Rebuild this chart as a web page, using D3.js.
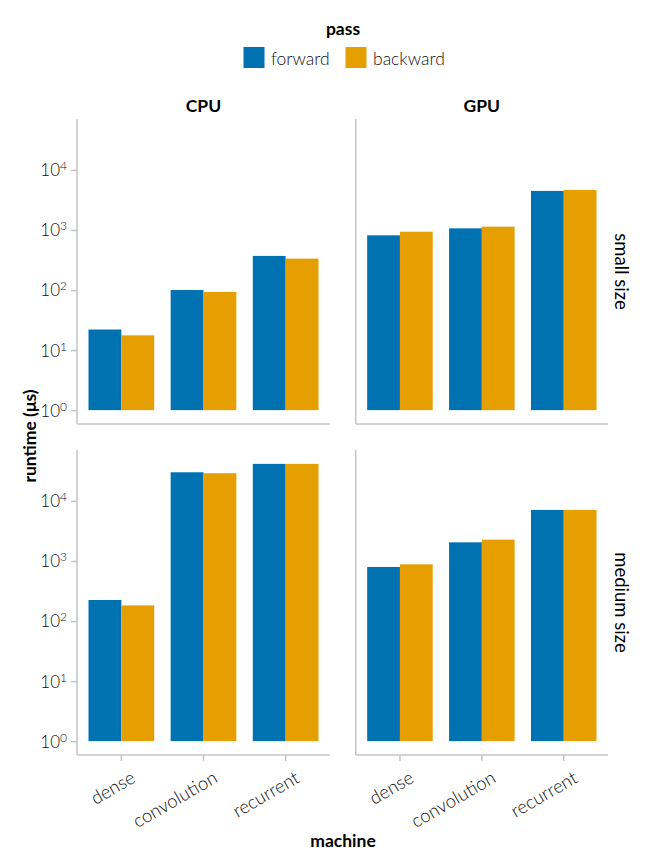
<!DOCTYPE html>
<html>
<head>
<meta charset="utf-8">
<script src="https://cdn.jsdelivr.net/npm/d3@7"></script>
<style>
  body { margin: 0; background: #fff; }
  text { font-family: Lato, "Noto Sans", sans-serif; }
</style>
</head>
<body>
<div id="chart"></div>
<script>
// data
var machines = ["dense", "convolution", "recurrent"];
var passes = ["forward", "backward"];
var devices = ["CPU", "GPU"];
var sizes = ["small size", "medium size"];

// runtimes in µs, [forward, backward] per machine
var cpuSmall  = [[22, 17.6], [100, 93], [370, 333]];
var gpuSmall  = [[815, 935], [1065, 1135], [4470, 4640]];
var cpuMedium = [[224, 182], [30000, 28900], [41400, 41400]];
var gpuMedium = [[795, 880], [2045, 2265], [7080, 7080]];

var yTicks = [1, 10, 100, 1000, 10000];
var colors = ["#0072B2", "#E69F00"];

var W = 651, H = 868;
var colX = [[77, 330], [355.7, 608]];
var rowY = [[119, 424], [450, 755]];

var panels = [
  {dev: 0, size: 0, vals: cpuSmall},
  {dev: 1, size: 0, vals: gpuSmall},
  {dev: 0, size: 1, vals: cpuMedium},
  {dev: 1, size: 1, vals: gpuMedium}
];

var svg = d3.select("#chart").append("svg")
  .attr("width", W).attr("height", H);

// shared log y domain with 5% margin like the original
var allVals = [].concat(cpuSmall, gpuSmall, cpuMedium, gpuMedium).flat();
var hiLog = Math.log10(d3.max(allVals));
var pad = hiLog * 0.05;
var yDomain = [Math.pow(10, -pad), Math.pow(10, hiLog + pad)];

var spineColor = "#c4c4c4";
var textColor = "#111";

panels.forEach(function(p){
  var x0 = colX[p.dev][0], x1 = colX[p.dev][1];
  var y0 = rowY[p.size][0], y1 = rowY[p.size][1];

  var x = d3.scaleBand().domain(machines).range([x0, x1])
    .paddingInner(0.2).paddingOuter(0.14);
  var xs = d3.scaleBand().domain(passes).range([0, x.bandwidth()]);
  var y = d3.scaleLog().domain(yDomain).range([y1, y0]);

  var g = svg.append("g");

  machines.forEach(function(m, i){
    g.selectAll(null)
      .data(p.vals[i])
      .enter()
      .append("rect")
      .attr("x", function(d, j){ return x(m) + xs(passes[j]); })
      .attr("y", function(d){ return y(d); })
      .attr("width", xs.bandwidth())
      .attr("height", function(d){ return y(1) - y(d); })
      .attr("fill", function(d, j){ return colors[j]; });
  });

  // spines
  g.append("line").attr("x1", x0).attr("x2", x0).attr("y1", y0).attr("y2", y1)
    .attr("stroke", spineColor).attr("stroke-width", 1.5);
  g.append("line").attr("x1", x0).attr("x2", x1).attr("y1", y1).attr("y2", y1)
    .attr("stroke", spineColor).attr("stroke-width", 1.5);

  if(p.dev == 0){
    var ya = g.append("g").attr("transform", "translate(" + x0 + ",0)")
      .call(d3.axisLeft(y).tickValues(yTicks).tickSize(6).tickPadding(4).tickFormat(""));
    ya.select(".domain").remove();
    ya.selectAll(".tick line").attr("stroke", spineColor).attr("stroke-width", 1.5);
    ya.selectAll(".tick text").each(function(d){
      var t = d3.select(this)
        .attr("fill", textColor).attr("font-size", 17).attr("font-weight", 300)
        .attr("dy", "0.35em");
      t.append("tspan").text("10");
      t.append("tspan").attr("dy", "-0.5em").attr("font-size", 12).text(Math.round(Math.log10(d)));
    });
  }

  if(p.size == 1){
    var xa = g.append("g").attr("transform", "translate(0," + y1 + ")")
      .call(d3.axisBottom(x).tickSize(6).tickFormat(""));
    xa.select(".domain").remove();
    xa.selectAll(".tick line").attr("stroke", spineColor).attr("stroke-width", 1.5);
    machines.forEach(function(m){
      var cx = x(m) + x.bandwidth() / 2;
      g.append("text")
        .attr("transform", "translate(" + (cx + 8) + "," + (y1 + 14) + ") rotate(-30)")
        .attr("text-anchor", "end")
        .attr("dominant-baseline", "hanging")
        .attr("font-size", 18.5).attr("font-weight", 300).attr("fill", textColor)
        .text(m);
    });
  }

  if(p.size == 0){
    svg.append("text")
      .attr("x", (x0 + x1) / 2).attr("y", 105)
      .attr("text-anchor", "middle").attr("dominant-baseline", "central")
      .attr("font-size", 17.5).attr("font-weight", 700)
      .text(devices[p.dev]);
  }
  if(p.dev == 1){
    svg.append("text")
      .attr("transform", "translate(622," + ((y0 + y1) / 2) + ") rotate(90)")
      .attr("text-anchor", "middle").attr("dominant-baseline", "central")
      .attr("font-size", 18.5).attr("font-weight", 400)
      .text(sizes[p.size]);
  }
});

// axis titles
svg.append("text")
  .attr("transform", "translate(29,436) rotate(-90)")
  .attr("text-anchor", "middle").attr("dominant-baseline", "central")
  .attr("font-size", 17.5).attr("font-weight", 700)
  .text("runtime (μs)");

svg.append("text")
  .attr("x", 343).attr("y", 840)
  .attr("text-anchor", "middle").attr("dominant-baseline", "central")
  .attr("font-size", 17.5).attr("font-weight", 700)
  .text("machine");

// legend
svg.append("text")
  .attr("x", 343).attr("y", 28)
  .attr("text-anchor", "middle").attr("dominant-baseline", "central")
  .attr("font-size", 17.5).attr("font-weight", 700)
  .text("pass");

var legX = [243.5, 345.5];
var leg = svg.selectAll(".leg")
  .data(passes)
  .enter()
  .append("g")
  .attr("transform", function(d, i){ return "translate(" + legX[i] + ",47)"; });
leg.append("rect")
  .attr("width", 21).attr("height", 21)
  .attr("fill", function(d, i){ return colors[i]; });
leg.append("text")
  .attr("x", 27.5).attr("y", 11)
  .attr("dominant-baseline", "central")
  .attr("font-size", 17.5).attr("font-weight", 300).attr("fill", textColor)
  .text(function(d){ return d; });
</script>
</body>
</html>
